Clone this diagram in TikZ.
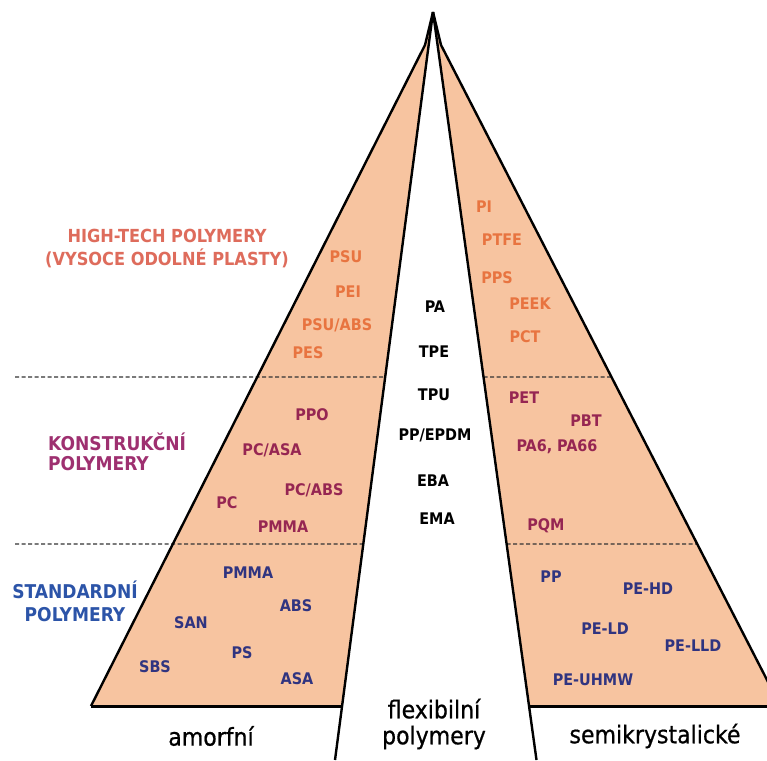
\documentclass[tikz,border=0pt]{standalone}
\usepackage{fontspec}
\setmainfont{DejaVu Sans Condensed}
\newfontfamily\basefont[FakeBold=0.7]{DejaVu Sans Condensed}
\usetikzlibrary{calc}
\definecolor{peach}{RGB}{247,196,160}
\definecolor{htlab}{RGB}{222,108,92}
\definecolor{htitem}{RGB}{232,116,64}
\definecolor{kolab}{RGB}{158,48,112}
\definecolor{koitem}{RGB}{150,38,82}
\definecolor{stlab}{RGB}{44,84,168}
\definecolor{stitem}{RGB}{48,52,128}
\begin{document}
\begin{tikzpicture}[x=1pt,y=-1pt,
  edge/.style={line width=2.4pt,black,line join=round},
  baseedge/.style={line width=3pt,black},
  divider/.style={line width=1.1pt,black!80,dash pattern=on 4pt off 2.5pt},
  grouplabel/.style={font=\fontsize{18.5}{22}\selectfont\bfseries,inner sep=0pt},
  item/.style={font=\fontsize{16}{18}\selectfont\bfseries,inner sep=0pt},
  htl/.style={grouplabel,text=htlab,align=center,font=\fontsize{18}{23}\selectfont\bfseries},
  kol/.style={grouplabel,text=kolab,align=left,font=\fontsize{19}{20}\selectfont\bfseries},
  stl/.style={grouplabel,text=stlab,align=center,font=\fontsize{19}{23}\selectfont\bfseries},
  hti/.style={item,text=htitem},
  koi/.style={item,text=koitem},
  sti/.style={item,text=stitem},
  flx/.style={item,text=black},
  base/.style={font=\basefont\fontsize{24.5}{26}\selectfont,inner sep=0pt,align=center}
]
\useasboundingbox (0,0) rectangle (767,760);
\coordinate (apex) at (433,12);
\coordinate (lo) at (425,45);
\coordinate (ro) at (441,45);
\coordinate (lbl) at (91,706);
\coordinate (lbr) at (342,706);
\coordinate (rbl) at (529,706);
\coordinate (rbr) at (780.4,706);
\coordinate (lend) at (335,760);
\coordinate (rend) at (536.5,760);
% dashed divider end points
\coordinate (d1a) at (15,377);
\coordinate (d1b) at ($(apex)!0.488!(lend)$);
\coordinate (d1c) at ($(apex)!0.488!(rend)$);
\coordinate (d1d) at ($(ro)!0.5023!(rbr)$);
\coordinate (d2a) at (15,544);
\coordinate (d2b) at ($(apex)!0.7112!(lend)$);
\coordinate (d2c) at ($(apex)!0.7112!(rend)$);
\coordinate (d2d) at ($(ro)!0.7549!(rbr)$);
\begin{scope}
\clip (0,0) rectangle (767,760);
\fill[peach] (apex) -- (lo) -- (lbl) -- (lbr) -- cycle;
\fill[peach] (apex) -- (ro) -- (rbr) -- (rbl) -- cycle;
\draw[divider] (d1a) -- (d1b);
\draw[divider] (d1c) -- (d1d);
\draw[divider] (d2a) -- (d2b);
\draw[divider] (d2c) -- (d2d);
\draw[edge] (apex) -- (lo) -- (lbl);
\draw[edge] (apex) -- (ro) -- (rbr);
\draw[edge] (apex) -- (lend);
\draw[edge] (apex) -- (rend);
\draw[baseedge] (lbl) -- (lbr);
\draw[baseedge] (rbl) -- (rbr);
\end{scope}
% group labels
\node[htl] (ht) at (167,249) {HIGH-TECH POLYMERY\\(VYSOCE ODOLNÉ PLASTY)};
\node[kol,anchor=west] (ko) at (48,452) {KONSTRUKČNÍ\\POLYMERY};
\node[stl] (st) at (75,601) {STANDARDNÍ\\POLYMERY};
% high-tech items
\node[hti] (psu) at (346,257) {PSU};
\node[hti] (pei) at (348,292) {PEI};
\node[hti] (psuabs) at (337,325) {PSU/ABS};
\node[hti] (pes) at (308,353) {PES};
\node[hti] (pi) at (484,207) {PI};
\node[hti] (ptfe) at (502,240) {PTFE};
\node[hti] (pps) at (497,278) {PPS};
\node[hti] (peek) at (530,304) {PEEK};
\node[hti] (pct) at (525,337) {PCT};
% flexible
\node[flx] (pa) at (435,307) {PA};
\node[flx] (tpe) at (434,352) {TPE};
\node[flx] (tpu) at (434,395) {TPU};
\node[flx] (ppepdm) at (435,435) {PP/EPDM};
\node[flx] (eba) at (433,481) {EBA};
\node[flx] (ema) at (437,519) {EMA};
% construction items
\node[koi] (ppo) at (312,415) {PPO};
\node[koi] (pcasa) at (272,450) {PC/ASA};
\node[koi] (pcabs) at (314,490) {PC/ABS};
\node[koi] (pc) at (227,503) {PC};
\node[koi] (pmma1) at (283,527) {PMMA};
\node[koi] (pet) at (524,398) {PET};
\node[koi] (pbt) at (586,421) {PBT};
\node[koi] (pa6) at (557,447) {PA6, PA66};
\node[koi] (pom) at (546,526) {PQM};
% standard items
\node[sti] (pmma2) at (248,573) {PMMA};
\node[sti] (abs) at (296,606) {ABS};
\node[sti] (san) at (191,623) {SAN};
\node[sti] (ps) at (242,653) {PS};
\node[sti] (sbs) at (155,667) {SBS};
\node[sti] (asa) at (297,679) {ASA};
\node[sti] (pp) at (551,577) {PP};
\node[sti] (pehd) at (648,589) {PE-HD};
\node[sti] (peld) at (605,629) {PE-LD};
\node[sti] (pelld) at (693,646) {PE-LLD};
\node[sti] (peuhmw) at (593,680) {PE-UHMW};
% bottom labels
\node[base] (amorf) at (211,736) {amorfní};
\node[base] (flex) at (434,724) {flexibilní\\polymery};
\node[base] (semi) at (655,736) {semikrystalické};
\end{tikzpicture}
\end{document}
